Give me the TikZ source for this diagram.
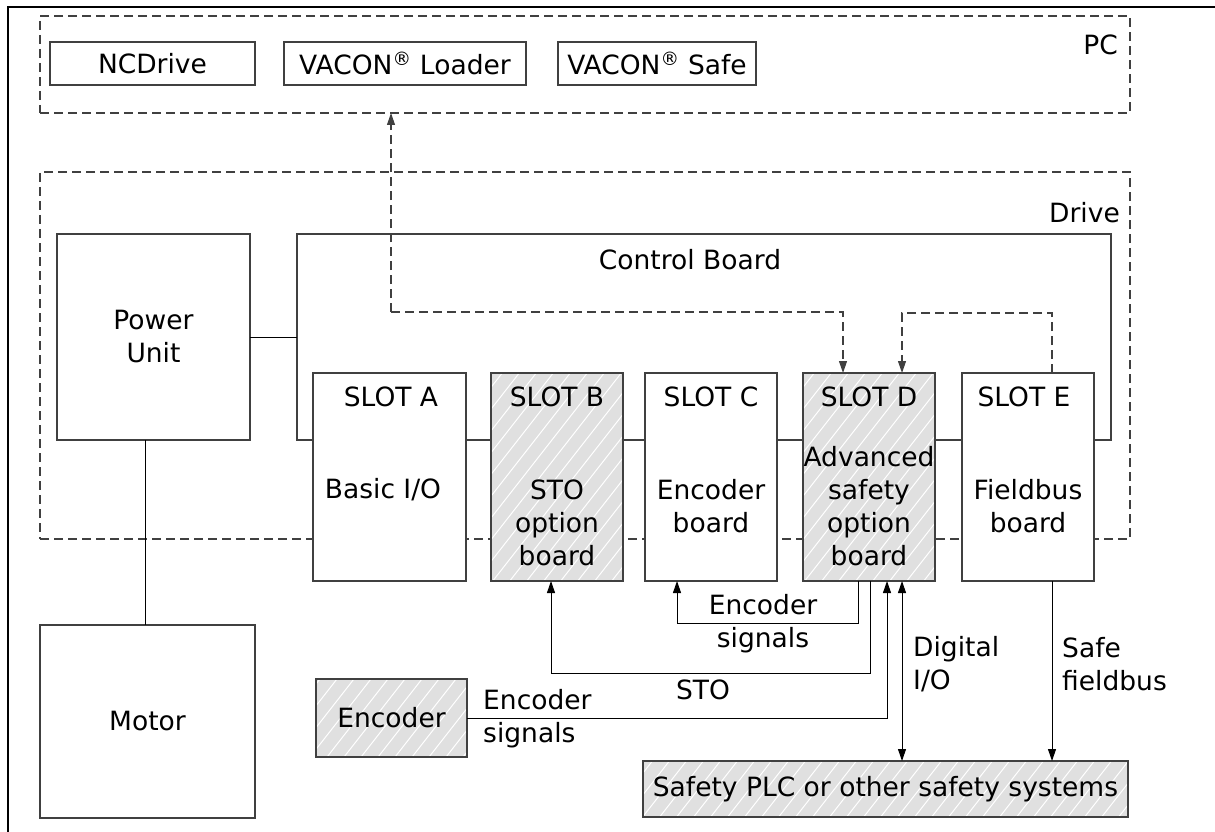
\documentclass[tikz,border=0pt]{standalone}
\usepackage{fontspec}
\setmainfont{DejaVu Sans}
\usetikzlibrary{arrows.meta}
\begin{document}
\begin{tikzpicture}[x=1pt,y=-1pt,
  box/.style={draw=black!75, line width=1.1pt, fill=white, inner sep=0pt, outer sep=0pt, anchor=north west},
  hatch/.style={fill=black!12, path picture={
      \begin{scope}[shift={(path picture bounding box.center)}]
        \foreach \k in {-40,...,40}
          \draw[white, line width=1pt] (\k*17-250, 320) -- ++(500,-640);
      \end{scope}}},
  dbox/.style={draw=black!75, line width=1.1pt, dash pattern=on 9pt off 5pt, inner sep=0pt, outer sep=0pt, anchor=north west},
  lbl/.style={font=\fontsize{26.5}{33}\selectfont, align=center, inner sep=0pt},
  lbll/.style={font=\fontsize{26.5}{33}\selectfont, align=left, inner sep=0pt, anchor=west},
  con/.style={draw=black, line width=1pt},
  dsh/.style={draw=black!75, line width=1.1pt, dash pattern=on 9pt off 5pt},
  arr/.style={-{Triangle[length=12pt,width=8pt]}},
  darr/.style={{Triangle[length=12pt,width=8pt]}-{Triangle[length=12pt,width=8pt]}}
]
\useasboundingbox (0,0) rectangle (1215,832);
% outer frame
\draw[line width=1.6pt] (8,832) -- (8,7) -- (1215,7);

% PC
\node[dbox, minimum width=1090pt, minimum height=97pt] (pc) at (40,16) {};
\node[lbl, anchor=east] (pcl) at (1118,45) {PC};
\node[box, minimum width=205pt, minimum height=43pt] (ncd) at (50,42) {};
\node[lbl] (ncdl) at (ncd.center) {NCDrive};
\node[box, minimum width=242pt, minimum height=43pt] (vl) at (284,42) {};
\node[lbl] (vll) at (vl.center) {VACON\textsuperscript{®} Loader};
\node[box, minimum width=198pt, minimum height=43pt] (vs) at (558,42) {};
\node[lbl] (vsl) at (vs.center) {VACON\textsuperscript{®} Safe};

% Drive
\node[dbox, minimum width=1090pt, minimum height=367pt] (drv) at (40,172) {};
\node[lbl, anchor=east] (drvl) at (1120,213) {Drive};

% Power unit, control board
\node[box, minimum width=193pt, minimum height=206pt] (pu) at (57,234) {};
\node[lbl] (pul) at (pu.center) {Power\\Unit};
\node[box, fill=none, minimum width=814pt, minimum height=206pt] (cb) at (297,234) {};
\node[lbl] (cbl) at (690,260) {Control Board};

% Motor
\node[box, minimum width=215pt, minimum height=193pt] (mot) at (40,625) {};
\node[lbl] (motl) at (mot.center) {Motor};

% Slots
\node[box, minimum width=153pt, minimum height=208pt] (sA) at (313,373) {};
\node[box, hatch, minimum width=132pt, minimum height=208pt] (sB) at (491,373) {};
\node[box, minimum width=132pt, minimum height=208pt] (sC) at (645,373) {};
\node[box, hatch, minimum width=132pt, minimum height=208pt] (sD) at (803,373) {};
\node[box, minimum width=132pt, minimum height=208pt] (sE) at (962,373) {};

\node[lbl] (sAt) at (391,397) {SLOT A};
\node[lbl] (sBt) at (557,397) {SLOT B};
\node[lbl] (sCt) at (711,397) {SLOT C};
\node[lbl] (sDt) at (869,397) {SLOT D};
\node[lbl] (sEt) at (1024,397) {SLOT E};

\node[lbl] (sAb) at (383,490) {Basic I/O};
\node[lbl] (sBb) at (557,523) {STO\\option\\board};
\node[lbl] (sCb) at (711,506) {Encoder\\board};
\node[lbl] (sDb) at (869,506) {Advanced\\safety\\option\\board};
\node[lbl] (sEb) at (1028,506) {Fieldbus\\board};

% Encoder and Safety PLC
\node[box, hatch, minimum width=151pt, minimum height=78pt] (enc) at (316,679) {};
\node[lbl] (encl) at (enc.center) {Encoder};
\node[box, hatch, minimum width=485pt, minimum height=56pt] (plc) at (643,761) {};
\node[lbl] (plcl) at (plc.center) {Safety PLC or other safety systems};

% connectors
\draw[con] (pu.east) -- (pu.east -| cb.west);
\draw[con] ([xshift=-8pt]pu.south) -- ([xshift=-8pt]pu.south |- mot.north);

\coordinate (j1) at (391,312);
\draw[dsh,arr] (j1) -- (j1 |- pc.south);
\draw[dsh,arr] (j1) -| ([xshift=-26pt]sD.north);
\draw[dsh,arr] ([xshift=24pt]sE.north) -- ++(0,-60) -| ([xshift=33pt]sD.north);

\draw[con,arr] ([xshift=-11pt]sD.south) -- ++(0,42) -| ([xshift=-34pt]sC.south);
\draw[con,arr] ([xshift=1pt]sD.south) -- ++(0,92) -| ([xshift=-6pt]sB.south);
\draw[con,arr] (enc.east) -| ([xshift=18pt]sD.south);
\draw[con,darr] ([xshift=33pt]sD.south) -- ([xshift=33pt]sD.south |- plc.north);
\draw[con,arr] ([xshift=24pt]sE.south) -- ([xshift=24pt]sE.south |- plc.north);

% connector labels
\node[lbl] (es1) at (763,624) {Encoder\\signals};
\node[lbl] (sto) at (703,690) {STO};
\node[lbll] (es2) at (483,719) {Encoder\\signals};
\node[lbll] (dio) at (913,664) {Digital\\I/O};
\node[lbll] (sfb) at (1062,664) {Safe\\fieldbus};
\end{tikzpicture}
\end{document}
